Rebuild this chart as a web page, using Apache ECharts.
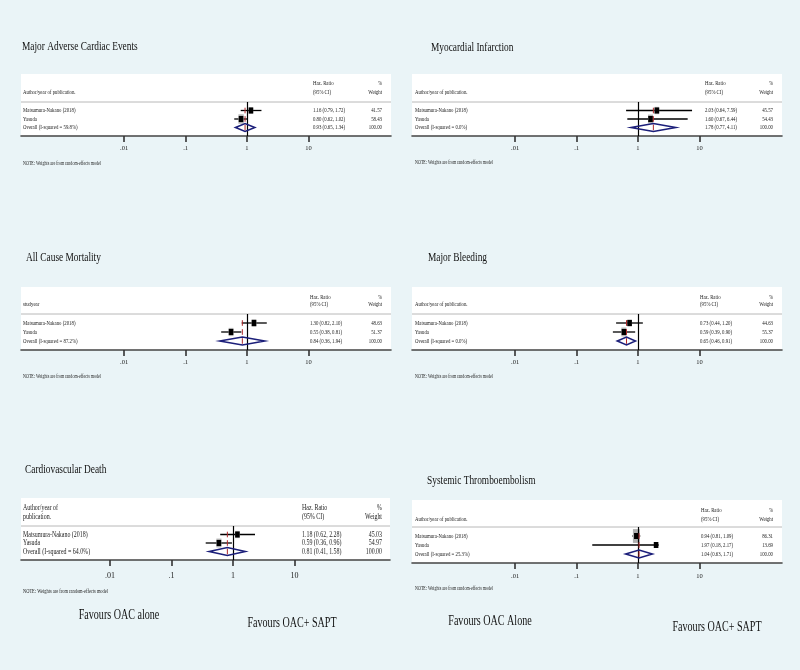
<!DOCTYPE html>
<html><head><meta charset="utf-8">
<script src="https://cdn.jsdelivr.net/npm/echarts@6/dist/echarts.min.js"></script>
<style>html,body{margin:0;padding:0;background:#eaf4f7}#c{width:800px;height:670px}</style>
</head><body><div id="c"></div>
<script>
// ---------------- DATA ----------------
const titles = ['Major Adverse Cardiac Events','Myocardial Infarction','All Cause Mortality','Major Bleeding','Cardiovascular Death','Systemic Thromboembolism'];
const headerLeft = [['Author/year of publication.'],['Author/year of publication.'],['studyear'],['Author/year of publication.'],['Author/year of','publication.'],['Author/year of publication.']];
const studyNames = ['Matsumura-Nakano (2018)','Yasuda'];
const hrEst  = [[1.16,0.80],[2.03,1.60],[1.30,0.55],[0.73,0.59],[1.18,0.59],[0.94,1.97]];
const hrLow  = [[0.79,0.62],[0.64,0.67],[0.82,0.38],[0.44,0.39],[0.62,0.36],[0.81,0.18]];
const hrHigh = [[1.72,1.02],[7.59,6.44],[2.10,0.81],[1.20,0.90],[2.28,0.96],[1.09,2.17]];
const weights = [[41.57,58.43],[45.57,54.43],[48.63,51.37],[44.63,55.37],[45.03,54.97],[86.31,13.69]];
const overallEst  = [0.93,1.78,0.84,0.65,0.81,1.04];
const overallLow  = [0.65,0.77,0.36,0.46,0.41,0.63];
const overallHigh = [1.34,4.11,1.94,0.91,1.58,1.71];
const iSquared = ['59.8%','0.0%','87.2%','0.0%','64.0%','25.3%'];
const tickValues = [0.01,0.1,1,10];
const tickLabels = ['.01','.1','1','10'];
const noteText = 'NOTE: Weights are from random-effects model';
const favourLeft = ['Favours OAC alone','Favours OAC Alone'];
const favourRight = ['Favours OAC+ SAPT','Favours OAC+ SAPT'];

// ---------------- LAYOUT ----------------
const L = [
 {left:21,right:391,xMin:-3.68,xMax:2.345,titleX:22,titleY:47,boxTop:74,h1:83,h2:92,top:102,bottom:136,noteY:164,nameX:23,ciX:313,wtX:382,fs:6.5,nfs:5.5,lm:9},
 {left:412,right:782,xMin:-3.68,xMax:2.345,titleX:431,titleY:48,boxTop:74,h1:83,h2:92,top:102,bottom:136,noteY:163,nameX:415,ciX:705,wtX:773,fs:6.5,nfs:5.5,lm:9},
 {left:21,right:391,xMin:-3.68,xMax:2.345,titleX:26,titleY:258,boxTop:287,h1:297,h2:304,top:314,bottom:350,noteY:377,nameX:23,ciX:310,wtX:382,fs:6.5,nfs:5.5,lm:9},
 {left:412,right:782,xMin:-3.68,xMax:2.345,titleX:428,titleY:258,boxTop:287,h1:297,h2:304,top:314,bottom:350,noteY:377,nameX:415,ciX:700,wtX:773,fs:6.5,nfs:5.5,lm:9},
 {left:21,right:390,xMin:-3.447,xMax:2.553,titleX:25,titleY:470,boxTop:498,h1:508,h2:517,top:526,bottom:560,noteY:591,nameX:23,ciX:302,wtX:382,fs:8,nfs:6,lm:12},
 {left:412,right:782,xMin:-3.68,xMax:2.345,titleX:427,titleY:481,boxTop:500,h1:510,h2:519,top:527,bottom:563,noteY:589,nameX:415,ciX:701,wtX:773,fs:6.5,nfs:5.5,lm:10}
];
const SERIF = '"Liberation Serif","Times New Roman",serif';
const SX = 0.74;
const logTicks = tickValues.map(v => Math.log10(v));

function renderStudy(params, api){
  const row = api.value(3);
  const lo = api.coord([api.value(0), row]);
  const hi = api.coord([api.value(1), row]);
  const c = api.coord([api.value(2), row]);
  const w = api.value(4);
  const bh = w*0.16, bw = 2 + bh*0.35;
  return {type:'group', children:[
    {type:'line', shape:{x1:lo[0],y1:lo[1],x2:hi[0],y2:hi[1]}, style:{stroke:'#000',lineWidth:1.3}},
    {type:'rect', shape:{x:c[0]-bw/2,y:c[1]-bh/2,width:bw,height:bh}, style:{fill:'#b0b0b0'}},
    {type:'rect', shape:{x:c[0]-2.3,y:c[1]-3,width:4.6,height:6}, style:{fill:'#000'}}
  ]};
}
function renderDiamond(params, api){
  const row = api.value(3);
  const lo = api.coord([api.value(0), row]);
  const hi = api.coord([api.value(1), row]);
  const c = api.coord([api.value(2), row]);
  const h = 4;
  return {type:'polygon', shape:{points:[[lo[0],c[1]],[c[0],c[1]-h],[hi[0],c[1]],[c[0],c[1]+h]]},
    style:{stroke:'#1c1f7a',lineWidth:1.6,fill:'rgba(255,255,255,0)'}};
}
function renderRef(params, api){
  const c = api.coord([api.value(0), api.value(1)]);
  return {type:'line', shape:{x1:c[0],y1:c[1]-2.8,x2:c[0],y2:c[1]+2.8}, style:{stroke:'#b0282a',lineWidth:1}};
}

const grids=[], xAxes=[], yAxes=[], series=[];
L.forEach((p,i)=>{
  grids.push({left:p.left, width:p.right-p.left, top:p.top, height:p.bottom-p.top});
  xAxes.push({gridIndex:i, type:'value', min:p.xMin, max:p.xMax,
    axisLine:{show:true, onZero:false, lineStyle:{color:'#444', width:1.6}},
    axisTick:{show:true, customValues:logTicks, length:6, lineStyle:{color:'#333', width:1.6}},
    axisLabel:{show:true, customValues:logTicks, margin:p.lm, fontFamily:SERIF, fontSize:p.fs, color:'#222',
      formatter:v=>{const k=logTicks.findIndex(t=>Math.abs(t-v)<1e-6);return k>=0?tickLabels[k]:'';}},
    splitLine:{show:false}});
  yAxes.push({gridIndex:i, type:'value', min:0, max:4, inverse:true, show:false});
  const sd = studyNames.map((n,j)=>[Math.log10(hrLow[i][j]),Math.log10(hrHigh[i][j]),Math.log10(hrEst[i][j]),j+1,weights[i][j]]);
  series.push({type:'custom', xAxisIndex:i, yAxisIndex:i, renderItem:renderStudy, data:sd, encode:{x:[0,1,2],y:3}, z:4,
    markLine:{silent:true, symbol:['none','none'], label:{show:false}, lineStyle:{color:'#000',width:1.2,type:'solid'}, data:[{xAxis:Math.log10(1)}]}});
  series.push({type:'custom', xAxisIndex:i, yAxisIndex:i, renderItem:renderDiamond, z:5,
    data:[[Math.log10(overallLow[i]),Math.log10(overallHigh[i]),Math.log10(overallEst[i]),3]], encode:{x:[0,1,2],y:3}});
  series.push({type:'custom', xAxisIndex:i, yAxisIndex:i, renderItem:renderRef, z:6,
    data:[1,2,3].map(r=>[Math.log10(overallEst[i]),r]), encode:{x:0,y:1}});
});

const chart = echarts.init(document.getElementById('c'), null, {renderer:'canvas'});
chart.setOption({backgroundColor:'#eaf4f7', animation:false, grid:grids, xAxis:xAxes, yAxis:yAxes, series:series});

function txt(x,y,text,size,align,sx,color){
  return {type:'text', x:x, y:y, scaleX:sx, z:10,
    style:{text:text, font:size+'px '+SERIF, fill:color||'#222', textAlign:align||'left', align:align||'left', textVerticalAlign:'middle', verticalAlign:'middle'}};
}
const g=[];
L.forEach((p,i)=>{
  g.push({type:'rect', z:-10, shape:{x:p.left,y:p.boxTop,width:p.right-p.left,height:p.bottom-p.boxTop}, style:{fill:'#ffffff'}});
  g.push({type:'line', z:-5, shape:{x1:p.left,y1:p.top,x2:p.right,y2:p.top}, style:{stroke:'#b8b8b8',lineWidth:1}});
  g.push(txt(p.titleX,p.titleY,titles[i],13,'left',0.72,'#111'));
  const hl = headerLeft[i];
  if(hl.length===1) g.push(txt(p.nameX,p.h2,hl[0],p.fs,'left',SX));
  else { g.push(txt(p.nameX,p.h1,hl[0],p.fs,'left',SX)); g.push(txt(p.nameX,p.h2,hl[1],p.fs,'left',SX)); }
  g.push(txt(p.ciX,p.h1,'Haz. Ratio',p.fs,'left',SX));
  g.push(txt(p.ciX,p.h2,'(95% CI)',p.fs,'left',SX));
  g.push(txt(p.wtX,p.h1,'%',p.fs,'right',SX));
  g.push(txt(p.wtX,p.h2,'Weight',p.fs,'right',SX));
  const rowNames = studyNames.concat(['Overall (I-squared = '+iSquared[i]+')']);
  const est = hrEst[i].concat([overallEst[i]]), lo = hrLow[i].concat([overallLow[i]]), hi = hrHigh[i].concat([overallHigh[i]]);
  const wt = weights[i].concat([100]);
  rowNames.forEach((n,j)=>{
    const y = chart.convertToPixel({gridIndex:i},[0,j+1])[1];
    g.push(txt(p.nameX,y,n,p.fs,'left',SX));
    g.push(txt(p.ciX,y,est[j].toFixed(2)+' ('+lo[j].toFixed(2)+', '+hi[j].toFixed(2)+')',p.fs,'left',SX));
    g.push(txt(p.wtX,y,wt[j].toFixed(2),p.fs,'right',SX));
  });
  g.push(txt(p.nameX,p.noteY,noteText,p.nfs,'left',SX));
});
g.push(txt(119,615,favourLeft[0],14,'center',0.72,'#111'));
g.push(txt(292,623,favourRight[0],14,'center',0.72,'#111'));
g.push(txt(490,621,favourLeft[1],14,'center',0.72,'#111'));
g.push(txt(717,627,favourRight[1],14,'center',0.72,'#111'));
chart.setOption({graphic:g});
</script></body></html>
